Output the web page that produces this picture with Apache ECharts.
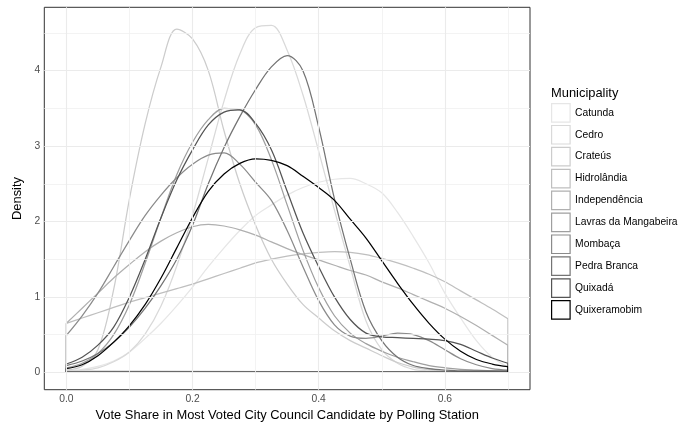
<!DOCTYPE html>
<html>
<head>
<meta charset="utf-8">
<script src="https://cdn.jsdelivr.net/npm/echarts@6/dist/echarts.min.js"></script>
<style>
  html, body { margin: 0; padding: 0; background: #fff; }
  #chart { width: 680px; height: 424px; }
</style>
</head>
<body>
<div id="chart"></div>
<script>
// Kernel density estimates of vote share, one curve per municipality,
// sampled every 0.025 between 0 and 0.7.
const xs = [0, 0.025, 0.05, 0.075, 0.1, 0.125, 0.15, 0.175, 0.2, 0.225, 0.25, 0.275, 0.3, 0.325, 0.35,
            0.375, 0.4, 0.425, 0.45, 0.475, 0.5, 0.525, 0.55, 0.575, 0.6, 0.625, 0.65, 0.675, 0.7];

const municipalities = ['Catunda', 'Cedro', 'Crateús', 'Hidrolândia', 'Independência',
                        'Lavras da Mangabeira', 'Mombaça', 'Pedra Branca', 'Quixadá', 'Quixeramobim'];

const catunda = [0.02, 0.04, 0.08, 0.15, 0.27, 0.45, 0.65, 0.88, 1.13, 1.40, 1.65, 1.88, 2.08, 2.22, 2.35,
                 2.45, 2.52, 2.56, 2.57, 2.50, 2.38, 2.12, 1.80, 1.45, 1.05, 0.72, 0.42, 0.20, 0.07];
const cedro = [0.02, 0.03, 0.06, 0.14, 0.27, 0.51, 0.88, 1.41, 2.08, 2.84, 3.60, 4.22, 4.57, 4.60, 4.27,
               3.68, 2.93, 2.15, 1.40, 0.68, 0.30, 0.12, 0.04, 0.02, 0.01, 0.01, 0.01, 0.01, 0.01];
const crateus = [0.03, 0.08, 0.30, 1.10, 2.30, 3.30, 4.05, 4.55, 4.42, 4.00, 3.20, 2.50, 1.95, 1.50, 1.17,
                 0.90, 0.72, 0.55, 0.42, 0.32, 0.22, 0.13, 0.07, 0.035, 0.015, 0.01, 0.01, 0.01, 0.01];
const hidrolandia = [0.65, 0.72, 0.79, 0.86, 0.93, 0.99, 1.05, 1.11, 1.17, 1.24, 1.31, 1.38, 1.45, 1.50, 1.54,
                     1.57, 1.59, 1.60, 1.59, 1.56, 1.51, 1.45, 1.38, 1.30, 1.20, 1.08, 0.96, 0.84, 0.71];
const independencia = [0.65, 0.85, 1.05, 1.25, 1.43, 1.60, 1.74, 1.85, 1.93, 1.96, 1.94, 1.89, 1.82, 1.73, 1.64,
                       1.56, 1.49, 1.42, 1.35, 1.29, 1.20, 1.12, 1.03, 0.94, 0.85, 0.74, 0.62, 0.49, 0.36];
const lavras = [0.06, 0.12, 0.25, 0.50, 0.90, 1.45, 2.05, 2.62, 3.05, 3.35, 3.50, 3.48, 3.28, 2.82, 2.22,
                1.62, 1.12, 0.75, 0.52, 0.38, 0.28, 0.20, 0.14, 0.09, 0.06, 0.04, 0.03, 0.02, 0.015];
const mombaca = [0.49, 0.75, 1.05, 1.40, 1.75, 2.08, 2.35, 2.58, 2.76, 2.88, 2.91, 2.76, 2.52, 2.28, 1.88,
                 1.40, 0.95, 0.63, 0.48, 0.45, 0.48, 0.52, 0.50, 0.42, 0.30, 0.18, 0.10, 0.05, 0.03];
const pedraBranca = [0.09, 0.15, 0.25, 0.40, 0.60, 0.85, 1.15, 1.50, 1.95, 2.50, 2.98, 3.39, 3.75, 4.05, 4.20,
                     4.00, 3.25, 2.30, 1.50, 0.80, 0.42, 0.20, 0.09, 0.05, 0.03, 0.02, 0.02, 0.02, 0.02];
const quixada = [0.11, 0.20, 0.36, 0.60, 1.00, 1.50, 2.05, 2.55, 2.95, 3.28, 3.45, 3.48, 3.30, 2.95, 2.40,
                 1.85, 1.40, 1.00, 0.70, 0.52, 0.47, 0.46, 0.45, 0.44, 0.42, 0.37, 0.28, 0.19, 0.12];
const quixeramobim = [0.05, 0.10, 0.22, 0.40, 0.62, 0.90, 1.25, 1.65, 2.05, 2.40, 2.63, 2.77, 2.83, 2.81, 2.74,
                      2.60, 2.45, 2.28, 2.03, 1.78, 1.48, 1.18, 0.90, 0.65, 0.44, 0.28, 0.17, 0.11, 0.075];

const densities = [catunda, cedro, crateus, hidrolandia, independencia,
                   lavras, mombaca, pedraBranca, quixada, quixeramobim];

// Grey ramp, light to black
const greys = ['#e6e6e6', '#d9d9d9', '#cccccc', '#bfbfbf', '#b0b0b0',
               '#9f9f9f', '#8b8b8b', '#747474', '#545454', '#000000'];

// Axis breaks
const xBreaks = [0, 0.2, 0.4, 0.6];
const xMinorBreaks = [0.1, 0.3, 0.5, 0.7];
const yBreaks = [0, 1, 2, 3, 4];
const yMinorBreaks = [0.5, 1.5, 2.5, 3.5, 4.5];

const FONT = 'Liberation Sans, Arial, sans-serif';

const series = [];

// Background grid, drawn through the axes' scales
series.push({
  type: 'line', data: [], silent: true, z: 0,
  markLine: {
    silent: true, symbol: 'none', animation: false,
    label: { show: false },
    data: [
      ...xMinorBreaks.map(v => ({ xAxis: v, lineStyle: { color: '#f0f0f0', width: 0.8, type: 'solid' } })),
      ...yMinorBreaks.map(v => ({ yAxis: v, lineStyle: { color: '#f0f0f0', width: 0.8, type: 'solid' } })),
      ...xBreaks.map(v => ({ xAxis: v, lineStyle: { color: '#ebebeb', width: 1.1, type: 'solid' } })),
      ...yBreaks.map(v => ({ yAxis: v, lineStyle: { color: '#ebebeb', width: 1.1, type: 'solid' } }))
    ]
  }
});

const x0 = xs[0], x1 = xs[xs.length - 1];
municipalities.forEach((name, i) => {
  const vals = densities[i];
  const style = { color: greys[i], width: 1.25 };
  // density curve
  series.push({
    name, type: 'line', smooth: 0.35, symbol: 'none', silent: true,
    data: xs.map((x, j) => [x, vals[j]]),
    lineStyle: style, itemStyle: { color: greys[i] }
  });
  // closing outline: end verticals and baseline
  series.push({
    name, type: 'line', symbol: 'none', silent: true,
    data: [[x0, vals[0]], [x0, 0], [x1, 0], [x1, vals[vals.length - 1]]],
    lineStyle: style, itemStyle: { color: greys[i] }
  });
});

const chart = echarts.init(document.getElementById('chart'), null, { renderer: 'canvas' });
chart.setOption({
  animation: false,
  backgroundColor: '#ffffff',
  textStyle: { fontFamily: FONT },
  title: {
    text: 'Municipality', left: 551, top: 87, padding: 0,
    textStyle: { fontSize: 12.9, fontWeight: 'normal', color: '#000', fontFamily: FONT }
  },
  legend: {
    orient: 'vertical', left: 551, top: 103, padding: 0,
    itemWidth: 18.5, itemHeight: 18.5, itemGap: 2.2,
    selectedMode: false,
    textStyle: { fontSize: 10.3, color: '#000', fontFamily: FONT },
    data: municipalities.map((n, i) => ({
      name: n, icon: 'rect',
      itemStyle: { color: '#ffffff', borderColor: greys[i], borderWidth: 1.2 }
    }))
  },
  grid: {
    left: 44.3, right: 150, top: 7.3, bottom: 34.3,
    outerBoundsMode: 'none', containLabel: false,
    show: true, borderColor: '#333333', borderWidth: 1, backgroundColor: 'transparent'
  },
  xAxis: {
    type: 'value', min: -0.035, max: 0.735,
    name: 'Vote Share in Most Voted City Council Candidate by Polling Station',
    nameLocation: 'middle', nameGap: 19, nameMoveOverlap: false,
    nameTextStyle: { fontSize: 12.9, color: '#000', fontFamily: FONT },
    axisLine: { show: false },
    axisTick: { show: true, customValues: xBreaks, length: 3, lineStyle: { color: '#333333' } },
    axisLabel: { customValues: xBreaks, formatter: v => v.toFixed(1), fontSize: 10.3, color: '#4d4d4d', margin: 4 },
    splitLine: { show: false }
  },
  yAxis: {
    type: 'value', min: -0.2305, max: 4.84,
    name: 'Density', nameLocation: 'middle', nameGap: 20, nameRotate: 90, nameMoveOverlap: false,
    nameTextStyle: { fontSize: 12.9, color: '#000', fontFamily: FONT },
    axisLine: { show: false },
    axisTick: { show: true, customValues: yBreaks, length: 3, lineStyle: { color: '#333333' } },
    axisLabel: { customValues: yBreaks, formatter: v => String(v), fontSize: 10.3, color: '#4d4d4d', margin: 4 },
    splitLine: { show: false }
  },
  series
});
</script>
</body>
</html>
